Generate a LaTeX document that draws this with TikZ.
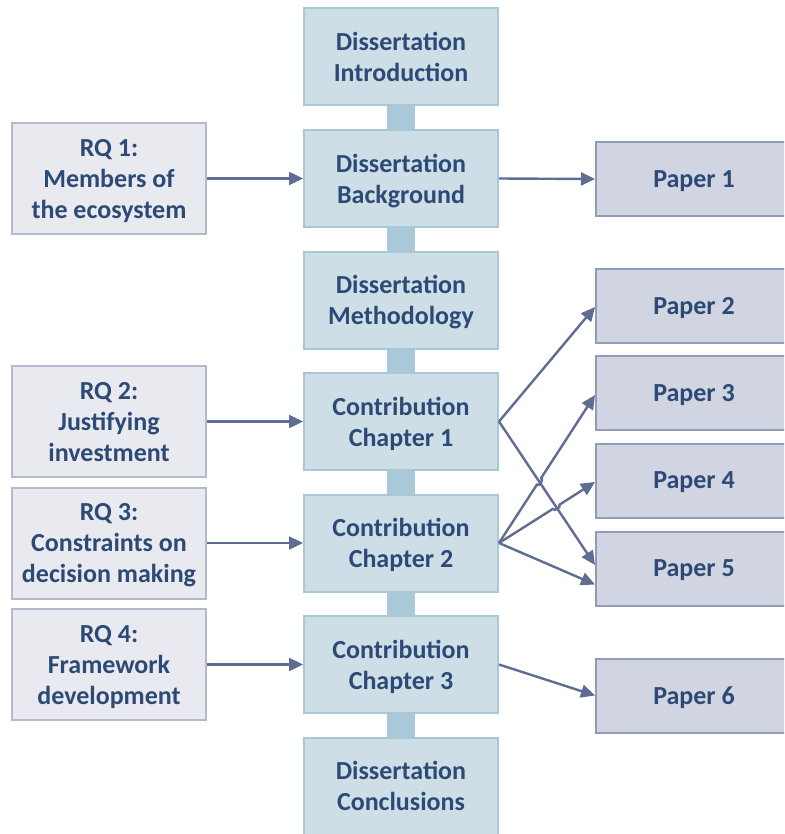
\documentclass[tikz,border=0pt]{standalone}
\usepackage{fontspec}
\setmainfont{Carlito}
\usetikzlibrary{arrows.meta,calc,backgrounds}

\definecolor{stagefill}{HTML}{CDDEE7}
\definecolor{stagedraw}{HTML}{A9C7D7}
\definecolor{barc}{HTML}{A9C9D9}
\definecolor{rqfill}{HTML}{E8EAF0}
\definecolor{rqdraw}{HTML}{B3BACB}
\definecolor{paperfill}{HTML}{D1D5E2}
\definecolor{paperdraw}{HTML}{8F9CBB}
\definecolor{textc}{HTML}{2C4A75}
\definecolor{arrowc}{HTML}{5F6D92}

\begin{document}
\begin{tikzpicture}[x=1pt,y=-1pt,
  box/.style={rectangle, line width=2pt, align=center, text=textc,
    font=\fontsize{26}{31}\selectfont\bfseries, inner sep=0pt, text depth=0pt},
  stage/.style={box, fill=stagefill, draw=stagedraw, minimum width=194pt, minimum height=97pt},
  rq/.style={box, fill=rqfill, draw=rqdraw, minimum width=194pt, minimum height=111pt},
  paper/.style={box, fill=paperfill, draw=paperdraw, minimum width=196pt, minimum height=74pt},
  link/.style={draw=arrowc, line width=2.4pt, -{Triangle[length=14pt,width=13pt]}},
  spine/.style={draw=barc, line width=28pt}]

\clip (0,0) rectangle (784,834);

% chapters of the dissertation
\node[stage] (intro) at (401,57)    {Dissertation\\Introduction};
\node[stage] (back)  at (401,178.5) {Dissertation\\Background};
\node[stage] (meth)  at (401,300)   {Dissertation\\Methodology};
\node[stage] (ch1)   at (401,421.5) {Contribution\\Chapter 1};
\node[stage] (ch2)   at (401,543)   {Contribution\\Chapter 2};
\node[stage] (ch3)   at (401,664.5) {Contribution\\Chapter 3};
\node[stage] (concl) at (401,786)   {Dissertation\\Conclusions};

% research questions
\node[rq] (rq1) at (109,178.5) {RQ 1:\\Members of\\the ecosystem};
\node[rq] (rq2) at (109,421.5) {RQ 2:\\Justifying\\investment};
\node[rq] (rq3) at (109,543)   {RQ 3:\\Constraints on\\decision making};
\node[rq] (rq4) at (109,664.5) {RQ 4:\\Framework\\development};

% papers
\node[paper] (p1) at (694,179)   {Paper 1};
\node[paper] (p2) at (694,305.5) {Paper 2};
\node[paper] (p3) at (694,393)   {Paper 3};
\node[paper] (p4) at (694,480.5) {Paper 4};
\node[paper] (p5) at (694,568.5) {Paper 5};
\node[paper] (p6) at (694,695.5) {Paper 6};

% spine joining the chapters
\begin{scope}[on background layer]
  \foreach \a/\b in {intro/back, back/meth, meth/ch1, ch1/ch2, ch2/ch3, ch3/concl}
    \draw[spine] (\a) -- (\b);
\end{scope}

% research questions feed the chapters
\draw[link] (rq1) -- (back);
\draw[link] (rq2) -- (ch1);
\draw[link] (rq3) -- (ch2);
\draw[link] (rq4) -- (ch3);

% chapters to papers
\coordinate (c1) at (ch1.east);
\coordinate (c2) at (ch2.east);
\coordinate (t3) at ($(p3.west)+(0,2)$);
\coordinate (t4) at ($(p4.west)+(0,1.5)$);
\coordinate (t5a) at ($(p5.west)+(0,-3.5)$);
\coordinate (t5b) at ($(p5.west)+(0,16)$);

\draw[link] (back.east) -- (p1.west);
\draw[link] (c1) -- ($(p2.west)+(0,1.5)$);
\draw[link] (c1) -- (t5a);

% crossing lines hop over the chapter 1 connector
\coordinate (x3) at (intersection of c1--t5a and c2--t3);
\coordinate (x4) at (intersection of c1--t5a and c2--t4);
\draw[link] (c2) -- ($(x3)!4pt!(c2)$) to[bend right=90] ($(x3)!4pt!(t3)$) -- (t3);
\draw[link] (c2) -- ($(x4)!4pt!(c2)$) to[bend right=90] ($(x4)!4pt!(t4)$) -- (t4);
\draw[link] (c2) -- (t5b);

\draw[link] (ch3.east) -- (p6.west);
\end{tikzpicture}
\end{document}
